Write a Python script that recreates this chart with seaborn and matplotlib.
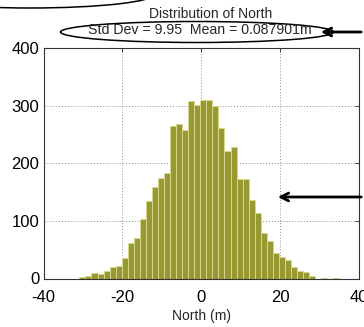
"""
plot.py
Histogram of North position error, MATLAB-style, with the callout marks.
"""

import numpy as np
import pandas as pd
import matplotlib
matplotlib.use("Agg")
import matplotlib.pyplot as plt
import seaborn as sns
from matplotlib.patches import Ellipse, Arc

# bin counts, bin width ~1.53 m starting at -30.9 m
BIN_START = -30.9
BIN_WIDTH = 1.533
COUNTS = [3, 4, 10, 7, 13, 20, 21, 36, 62, 70,
          103, 134, 159, 174, 184, 265, 269, 258, 308, 302,
          310, 310, 299, 262, 222, 229, 173, 173, 137, 114,
          79, 65, 44, 37, 33, 20, 13, 12, 4, 0,
          1, 0, 1]
X_TICKS = [-40, -20, 0, 20, 40]
Y_TICKS = [0, 100, 200, 300, 400]
TITLE1 = "Distribution of North"
TITLE2 = "Std Dev = 9.95  Mean = 0.087901m"
XLABEL = "North (m)"

edges   = BIN_START + BIN_WIDTH * np.arange(len(COUNTS) + 1)
centers = (edges[:-1] + edges[1:]) / 2
df = pd.DataFrame({"north": centers, "count": COUNTS})

sns.set_style("white")
plt.rcParams["font.family"] = ["Liberation Sans", "DejaVu Sans"]
plt.rcParams["axes.unicode_minus"] = False   # MATLAB prints a plain hyphen

fig = plt.figure(figsize=(3.64, 3.27), dpi=100)
# axes rect [left, bottom, w, h] in pixels of the 364x327 canvas
L, R, T, B = 43.5, 359, 48.3, 278.5
ax = fig.add_axes([L / 364, (327 - B) / 327, (R - L) / 364, (B - T) / 327])

sns.histplot(data=df, x="north", weights="count",
             binwidth=BIN_WIDTH, binrange=(float(edges[0]), float(edges[-1])), ax=ax,
             color="#999933", edgecolor="#d8d890", linewidth=0.7, alpha=1)

ax.set_xlim(-40, 40); ax.set_ylim(0, 400)
ax.set_xticks(X_TICKS); ax.set_yticks(Y_TICKS)
ax.tick_params(direction="in", length=3, width=0.6, labelsize=12,
               top=True, right=True, colors="#222222", labelcolor="black")
ax.tick_params(axis="x", pad=8)
ax.tick_params(axis="y", pad=3)
ax.grid(True, linestyle=(0, (1, 2)), color="#8c8c8c", linewidth=0.7)
ax.set_axisbelow(True)
for s in ax.spines.values():
    s.set_color("#333333"); s.set_linewidth(0.8)
ax.set_xlabel(XLABEL, fontsize=10, labelpad=3)
ax.set_ylabel("")

# two-line title
fig.text(211 / 364, 1 - 14.5 / 327, TITLE1, ha="center", va="center", fontsize=10)
fig.text(200 / 364, 1 - 30.5 / 327, TITLE2, ha="center", va="center", fontsize=10.2)

# callout marks: ellipse round the stats, arrows, partial ellipse top-left
fig.patches.append(Ellipse((197, 327 - 32), 273, 21, transform=None,
                           fill=False, edgecolor="black", linewidth=1.1))
fig.patches.append(Arc((30, 327 + 6), 250, 28, theta1=180, theta2=360,
                       transform=None, edgecolor="black", linewidth=1.1))
ax.annotate("", xy=(318, 327 - 32), xytext=(364, 327 - 32),
            xycoords="figure pixels", textcoords="figure pixels",
            arrowprops=dict(arrowstyle="->", lw=2, mutation_scale=14, color="black"),
            annotation_clip=False)
ax.annotate("", xy=(275, 327 - 197), xytext=(364, 327 - 197),
            xycoords="figure pixels", textcoords="figure pixels",
            arrowprops=dict(arrowstyle="->", lw=2, mutation_scale=14, color="black"),
            annotation_clip=False)

fig.savefig("out.png", dpi=100)
plt.close()
